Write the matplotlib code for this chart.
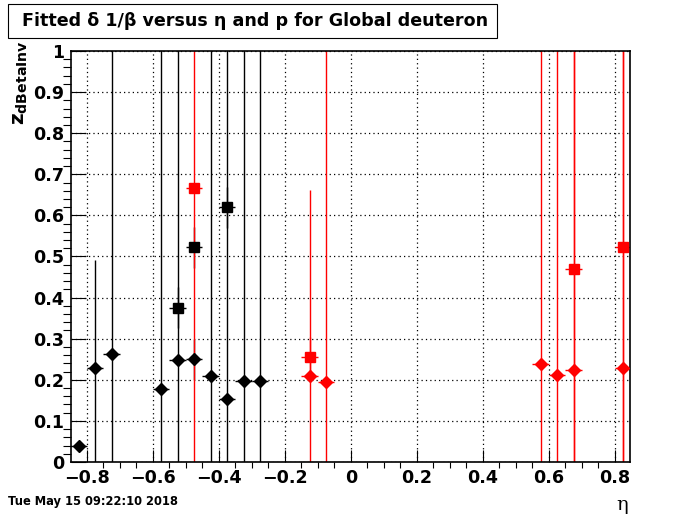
import matplotlib
matplotlib.use('Agg')
import matplotlib.pyplot as plt
from matplotlib.patches import Rectangle
from matplotlib.ticker import MultipleLocator, FuncFormatter

# eta bin centres, fitted z values and errors
# (errors of 1.5 mean the bar runs off the top of the frame)
black_dia_eta = [-0.825, -0.775, -0.725, -0.575, -0.525, -0.475, -0.425, -0.375, -0.325, -0.275]
black_dia_z = [0.039, 0.229, 0.263, 0.178, 0.248, 0.250, 0.210, 0.153, 0.197, 0.197]
black_dia_err = [0.01, 0.262, 1.5, 1.5, 1.5, 0.05, 1.5, 1.5, 1.5, 1.5]

black_sq_eta = [-0.525, -0.475, -0.375]
black_sq_z = [0.375, 0.522, 0.620]
black_sq_err = [0.05, 0.05, 0.05]

red_dia_eta = [-0.125, -0.075, 0.575, 0.625, 0.675, 0.825]
red_dia_z = [0.210, 0.195, 0.238, 0.211, 0.224, 0.229]
red_dia_err = [0.451, 1.5, 1.5, 1.5, 1.5, 1.5]

red_sq_eta = [-0.475, -0.125, 0.675, 0.825]
red_sq_z = [0.666, 0.255, 0.470, 0.524]
red_sq_err = [1.5, 0.05, 1.5, 1.5]

half_bin = 0.025

W, H = 700, 514
fig = plt.figure(figsize=(7, 5.14), dpi=100)
ax = fig.add_axes([71 / W, 1 - 462 / H, (630 - 71) / W, (462 - 51) / H])

# error bars first (black then red), markers on top
for eta, z, err, col in [(black_dia_eta, black_dia_z, black_dia_err, 'black'),
                         (black_sq_eta, black_sq_z, black_sq_err, 'black'),
                         (red_dia_eta, red_dia_z, red_dia_err, 'red'),
                         (red_sq_eta, red_sq_z, red_sq_err, 'red')]:
    ax.errorbar(eta, z, yerr=err, xerr=half_bin, fmt='none', ecolor=col,
                elinewidth=1.0, capsize=0, zorder=2)

ax.plot(red_dia_eta, red_dia_z, 'D', color='red', ms=6.2, mec='red', zorder=3)
ax.plot(red_sq_eta, red_sq_z, 's', color='red', ms=7.2, mec='red', zorder=3)
ax.plot(black_dia_eta, black_dia_z, 'D', color='black', ms=6.2, zorder=4)
ax.plot(black_sq_eta, black_sq_z, 's', color='black', ms=7.2, zorder=4)

ax.set_xlim(-0.848, 0.846)
ax.set_ylim(0, 1)

ax.xaxis.set_major_locator(MultipleLocator(0.2))
ax.xaxis.set_minor_locator(MultipleLocator(0.05))
ax.yaxis.set_major_locator(MultipleLocator(0.1))
ax.yaxis.set_minor_locator(MultipleLocator(0.02))
ax.yaxis.set_major_formatter(FuncFormatter(lambda v, p: '%g' % round(v, 2)))
ax.xaxis.set_major_formatter(FuncFormatter(lambda v, p: ('%g' % round(v, 2)).replace('-', '\u2212')))

ax.tick_params(axis='both', direction='in', top=False, right=False, labelsize=12.6, width=0.8)
ax.tick_params(axis='x', which='major', length=8.6, pad=5)
ax.tick_params(axis='x', which='minor', length=4.3, width=0.8)
ax.tick_params(axis='y', which='major', length=10.8, pad=5)
ax.tick_params(axis='y', which='minor', length=5.5, width=0.8)
for lab in ax.get_xticklabels() + ax.get_yticklabels():
    lab.set_fontweight('bold')

ax.grid(True, which='major', color='black', linestyle=(0, (1, 2.5)), linewidth=0.9)
ax.set_axisbelow(True)
for s in ax.spines.values():
    s.set_linewidth(1.2)

# title box
fig.patches.append(Rectangle((8 / W, 1 - 38 / H), (497 - 8) / W, 34 / H, transform=fig.transFigure,
                             facecolor='white', edgecolor='black', linewidth=0.8))
fig.text(22 / W, 1 - 21 / H, 'Fitted \u03b4 1/\u03b2 versus \u03b7 and p for Global deuteron',
         fontsize=12.6, fontweight='bold', ha='left', va='center')

fig.text(21 / W, 1 - 40 / H, r'$\mathbf{z_{dBetaInv}}$', rotation=90, fontsize=14.5,
         ha='center', va='top')
fig.text(628 / W, 1 - 505 / H, '\u03b7', family='DejaVu Serif', fontsize=14, ha='right', va='center')
fig.text(8 / W, 1 - 502 / H, 'Tue May 15 09:22:10 2018', fontsize=8.3, fontweight='bold',
         ha='left', va='center')

fig.savefig('out.png', dpi=100)
